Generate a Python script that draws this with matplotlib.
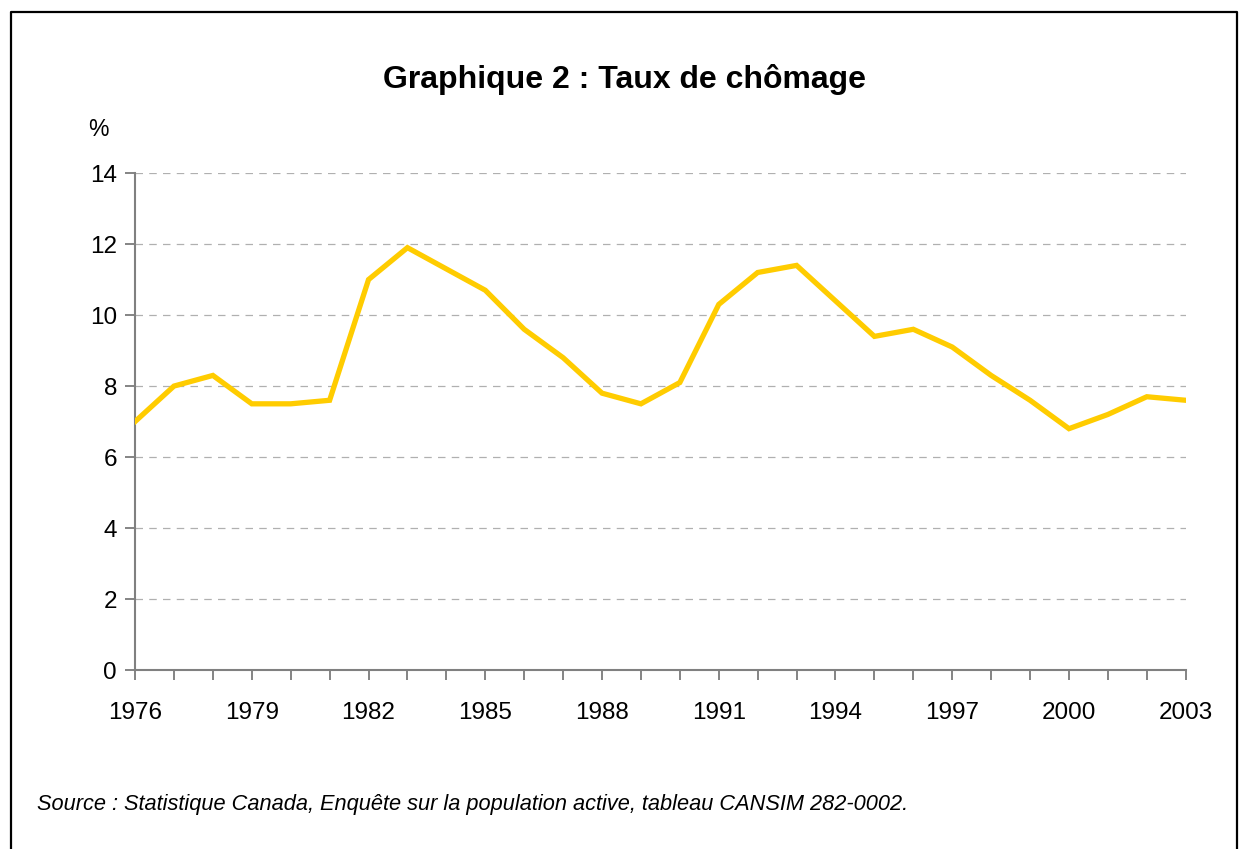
import matplotlib
matplotlib.use('Agg')
import matplotlib.pyplot as plt

plt.rcParams['font.family'] = ['Liberation Sans', 'DejaVu Sans']

years = list(range(1976, 2004))
rate = [7.0, 8.0, 8.3, 7.5, 7.5, 7.6, 11.0, 11.9, 11.3, 10.7, 9.6, 8.8, 7.8, 7.5,
        8.1, 10.3, 11.2, 11.4, 10.4, 9.4, 9.6, 9.1, 8.3, 7.6, 6.8, 7.2, 7.7, 7.6]
label_years = [1976, 1979, 1982, 1985, 1988, 1991, 1994, 1997, 2000, 2003]
y_ticks = [0, 2, 4, 6, 8, 10, 12, 14]

fig = plt.figure(figsize=(12.39, 8.49), dpi=100)
ax = fig.add_axes([0.109, 0.2108, 0.848, 0.5853])

ax.plot(years, rate, color='#FFCC00', lw=3.8, solid_joinstyle='miter', zorder=3)

ax.set_xlim(1976, 2003)
ax.set_ylim(0, 14)
ax.set_yticks(y_ticks)
ax.set_xticks(years)
ax.set_xticklabels([str(y) if y in label_years else '' for y in years])
ax.tick_params(axis='both', direction='out', length=7, width=1.2, color='#707070',
               labelsize=17.5)
ax.tick_params(axis='x', pad=16)
ax.tick_params(axis='y', pad=6)
ax.grid(axis='y', color='#b0b0b0', ls=(0, (6, 5)), lw=0.9)
ax.set_axisbelow(True)
for s in ['top', 'right']:
    ax.spines[s].set_visible(False)
for s in ['left', 'bottom']:
    ax.spines[s].set_color('#808080')
    ax.spines[s].set_linewidth(1.5)

fig.text(0.504, 0.906, 'Graphique 2 : Taux de chômage', ha='center', va='center',
         fontsize=23, fontweight='bold')
fig.text(0.079, 0.847, '%', ha='center', va='center', fontsize=16.5)
fig.text(0.030, 0.052, 'Source : Statistique Canada, Enquête sur la population active, tableau CANSIM 282-0002.',
         ha='left', va='center', fontsize=15.7, style='italic')

# outer frame, open at the bottom
fig.add_artist(plt.Line2D([0.0085, 0.0085, 0.9985, 0.9985], [0.0, 0.986, 0.986, 0.0],
                          transform=fig.transFigure, color='black', lw=1.6))

fig.savefig('out.png', dpi=100)
